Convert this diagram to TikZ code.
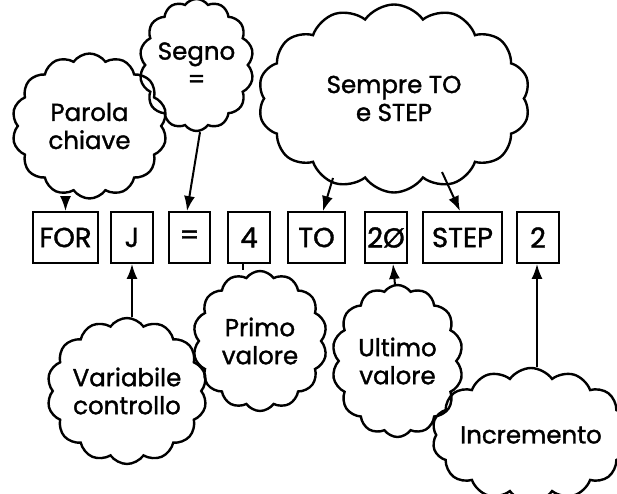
\documentclass[tikz,border=0pt]{standalone}
\usepackage{fontspec}
\setmainfont{Poppins}[FakeBold=1.4]
\usetikzlibrary{shapes.symbols,arrows.meta,calc}
\begin{document}
\begin{tikzpicture}[x=1pt,y=-1pt,
  tok/.style={draw,line width=1.8pt,rectangle,minimum height=51pt,inner sep=0pt,font=\fontsize{27.5}{30}\selectfont},
  thought/.style={draw,line width=2.4pt,cloud,cloud puffs=14,cloud puff arc=110,cloud ignores aspect,inner sep=0pt,align=center,font=\fontsize{24.5}{28}\selectfont},
  arr/.style={line width=2pt,-{Latex[length=15pt,width=11pt]}},
  tick/.style={line width=2pt}]
\useasboundingbox (0,0) rectangle (617,494);
% token boxes
\node[tok,minimum width=65pt] (for) at (65.5,237.5) {FOR};
\node[tok,minimum width=42pt] (j) at (132,237.5) {J};
\node[tok,minimum width=41pt] (eq) at (189.5,237.5) {=};
\node[tok,minimum width=42pt] (four) at (249,237.5) {4};
\node[tok,minimum width=57pt] (to) at (316.5,237.5) {TO};
\node[tok,minimum width=42pt] (twenty) at (386,237.5) {2Ø};
\node[tok,minimum width=79pt] (step) at (462.5,237.5) {STEP};
\node[tok,minimum width=42pt] (two) at (538,237.5) {2};
% clouds
\node[thought,minimum width=155pt,minimum height=145pt] (parola) at (89.5,126) {Parola\\chiave};
\node[thought,minimum width=107pt,minimum height=132pt] (segno) at (196.5,65) {Segno\\=};
\node[thought,minimum width=272pt,minimum height=188pt] (sempre) at (394,98.5) {Sempre TO\\e STEP};
\node[thought,minimum width=160pt,minimum height=146pt] (var) at (127,391) {Variabile\\controllo};
\node[thought,minimum width=134pt,minimum height=140pt] (primo) at (260,341) {Primo\\valore};
\node[thought,minimum width=131pt,minimum height=152pt] (ultimo) at (397.5,361) {Ultimo\\valore};
\node[thought,minimum width=172pt,minimum height=134pt] (incr) at (531,435) {Incremento};
% connectors
\coordinate (forin) at (for.north);
\coordinate (forout) at (forin |- parola.south);
\draw[arr] (forout) -- (forin);
\draw[arr] ($(segno.south)+(3.5,0)$) -- ($(eq.north)+(-2.5,0)$);
\draw[arr] ($(sempre.center)+(-61,79.5)$) -- ($(to.north)+(6.5,0)$);
\draw[arr] ($(sempre.center)+(48,73.5)$) -- ($(step.north)+(-2.5,0)$);
\coordinate (jin) at (j.south);
\coordinate (jout) at (jin |- var.north);
\draw[arr] (jout) -- (jin);
\coordinate (tk) at ($(four.south)+(-6,0)$);
\coordinate (tkend) at (tk |- primo.north);
\draw[tick] (tk) -- (tkend);
\draw[arr] ($(ultimo.north)+(-2.5,1)$) -- ($(twenty.south)+(7,0)$);
\coordinate (twoin) at ($(two.south)+(-1,0)$);
\coordinate (twoout) at (twoin |- incr.north);
\draw[arr] (twoout) -- (twoin);
\end{tikzpicture}
\end{document}
